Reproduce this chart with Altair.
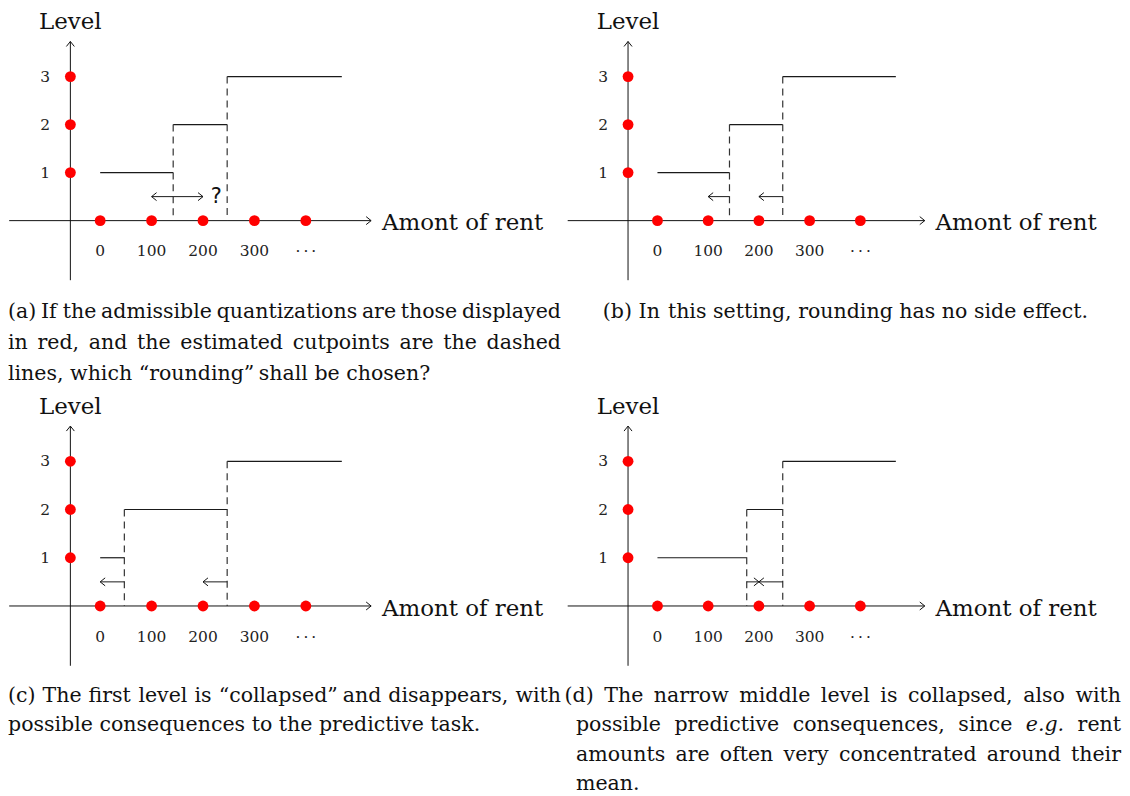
import altair as alt
import pandas as pd

# ---------------- data ----------------
RENT_TICKS = [0, 100, 200, 300, 400]
RENT_TICK_LABELS = ["0", "100", "200", "300", "\u00b7\u2009\u00b7\u2009\u00b7"]
LEVELS = [1, 2, 3]
LEVEL_LABELS = ["1", "2", "3"]
STEP_FIRST = 0          # start of level-1 step
STEP_LAST = 470         # end of level-3 step
PANELS = ["a", "b", "c", "d"]
CUT1 = [142, 142, 47, 176]      # first estimated cutpoint per panel
CUT2 = [247, 247, 247, 247]     # second estimated cutpoint per panel
ARROW_FROM = {"a": [142, 142], "b": [142, 247], "c": [47, 247], "d": [176, 247]}
ARROW_TO = {"a": [100, 200], "b": [100, 200], "c": [0, 200], "d": [200, 200]}
ARROW_LEVEL = 0.5
QUESTION_AT = (226, 0.5)

CAPTION_A = ["(a) If the admissible quantizations are those displayed",
             "in red, and the estimated cutpoints are the dashed",
             "lines, which \u201crounding\u201d shall be chosen?"]
CAPTION_B = ["(b) In this setting, rounding has no side effect."]
CAPTION_C = ["(c) The first level is \u201ccollapsed\u201d and disappears, with",
             "possible consequences to the predictive task."]
CAPTION_D = ["(d) The narrow middle level is collapsed, also with",
             "possible predictive consequences, since e.g. rent",
             "amounts are often very concentrated around their",
             "mean."]
ITALIC_WORDS = {"e.g."}

# ---------------- styling / geometry ----------------
FONT = "DejaVu Serif"
CAP_SIZE = 20.6
X_AXIS = (-177, 527)
Y_AXIS_X = -58
Y_AXIS = (-1.24, 3.73)
W = 559
H_TOP, H_BOT = 387, 401
XDOM_L = [-179.3, 904.1]
XDOM_R = [-182.3, 915.9]
YDOM_T = [-3.631, 4.398]
YDOM_B = [-3.911, 4.374]

HEAD_R = "M-1.25,-1L0,0L-1.25,1"
HEAD_L = "M1.25,-1L0,0L1.25,1"
HEAD_U = "M-1,1.25L0,0L1,1.25"

# approximate advance widths (em) of DejaVu Serif, used to justify caption lines
ADV = dict(zip("abcdefghijklmnopqrstuvwxyz",
               [.596, .640, .560, .640, .592, .370, .640, .644, .320, .310, .606, .320, .948,
                .644, .602, .640, .640, .478, .513, .402, .644, .565, .856, .564, .565, .523]))
ADV.update({" ": .318, ",": .318, ".": .318, "(": .390, ")": .390, "?": .533,
            "\u201c": .459, "\u201d": .459, "I": .468, "T": .664})
SPACE = .318


def text_w(s, size):
    return sum(ADV.get(ch, .6) for ch in s) * size


def layout(lines, x0, y0, line_h, right=None, indent=None, justify=None):
    """page-pixel positions for every word of a caption"""
    rows = []
    for li, line in enumerate(lines):
        xs = x0 if (indent is None or li == 0) else indent
        words = line.split(" ")
        widths = [text_w(w, CAP_SIZE) for w in words]
        if justify and justify[li] and len(words) > 1:
            gap = (right - xs - sum(widths)) / (len(words) - 1)
        else:
            gap = SPACE * CAP_SIZE
        pos = xs
        for w, wd in zip(words, widths):
            rows.append((w, pos, y0 + li * line_h, "italic" if w in ITALIC_WORDS else "normal"))
            pos += wd + gap
    return rows


def panel(i, xdom, ydom, height, left_px, top_px, caption_rows):
    key = PANELS[i]
    c1, c2 = CUT1[i], CUT2[i]
    xs = alt.Scale(domain=xdom, nice=False, zero=False)
    ys = alt.Scale(domain=ydom, nice=False, zero=False)
    kx = W / (xdom[1] - xdom[0])
    ky = height / (ydom[1] - ydom[0])

    def enc_seg():
        return dict(
            x=alt.X("x:Q", scale=xs, axis=None),
            x2=alt.X2("x2:Q"),
            y=alt.Y("y:Q", scale=ys, axis=None),
            y2=alt.Y2("y2:Q"),
        )

    def enc_pt():
        return dict(
            x=alt.X("x:Q", scale=xs, axis=None),
            y=alt.Y("y:Q", scale=ys, axis=None),
        )

    axes = pd.DataFrame({
        "x": [X_AXIS[0], Y_AXIS_X], "x2": [X_AXIS[1], Y_AXIS_X],
        "y": [0, Y_AXIS[0]], "y2": [0, Y_AXIS[1]],
    })
    steps = pd.DataFrame({
        "x": [STEP_FIRST, c1, c2], "x2": [c1, c2, STEP_LAST],
        "y": [1, 2, 3], "y2": [1, 2, 3],
    })
    dashes = pd.DataFrame({"x": [c1, c2], "x2": [c1, c2], "y": [2, 3], "y2": [0, 0]})
    afrom, ato = ARROW_FROM[key], ARROW_TO[key]
    arrows = pd.DataFrame({
        "x": afrom, "x2": ato,
        "y": [ARROW_LEVEL] * len(afrom), "y2": [ARROW_LEVEL] * len(afrom),
    })
    heads = pd.DataFrame({
        "x": [X_AXIS[1], Y_AXIS_X] + ato,
        "y": [0, Y_AXIS[1]] + [ARROW_LEVEL] * len(ato),
        "d": ["r", "u"] + ["r" if t > f else "l" for f, t in zip(afrom, ato)],
    })
    pts = pd.DataFrame({
        "x": RENT_TICKS + [Y_AXIS_X] * len(LEVELS),
        "y": [0] * len(RENT_TICKS) + LEVELS,
    })
    xlab = pd.DataFrame({"x": RENT_TICKS, "y": [-0.64] * len(RENT_TICKS), "t": RENT_TICK_LABELS})
    ylab = pd.DataFrame({"x": [-107] * len(LEVELS), "y": LEVELS, "t": LEVEL_LABELS})
    ytitle = pd.DataFrame({"x": [Y_AXIS_X], "y": [3.99], "t": ["Level"]})
    xtitle = pd.DataFrame({"x": [548], "y": [-0.20], "t": ["Amont of rent"]})

    cap = pd.DataFrame({
        "t": [r[0] for r in caption_rows],
        "x": [xdom[0] + (r[1] - left_px) / kx for r in caption_rows],
        "y": [ydom[1] - (r[2] - top_px) / ky for r in caption_rows],
        "s": [r[3] for r in caption_rows],
    })

    layers = [
        alt.Chart(axes).mark_rule(color="#111", strokeWidth=1).encode(**enc_seg()),
        alt.Chart(steps).mark_rule(color="#1a1a1a", strokeWidth=1.2).encode(**enc_seg()),
        alt.Chart(dashes).mark_rule(color="#333", strokeWidth=1.2, strokeDash=[7, 5]).encode(**enc_seg()),
        alt.Chart(arrows).mark_rule(color="#1a1a1a", strokeWidth=1).encode(**enc_seg()),
        alt.Chart(heads).mark_point(filled=False, size=64, strokeWidth=1, color="#111", opacity=1).encode(
            shape=alt.Shape("d:N", scale=alt.Scale(domain=["r", "l", "u"], range=[HEAD_R, HEAD_L, HEAD_U]), legend=None),
            **enc_pt()),
        alt.Chart(pts).mark_circle(size=118, color="#ff0000", opacity=1).encode(**enc_pt()),
        alt.Chart(xlab).mark_text(font=FONT, fontSize=15.5, color="#222", baseline="middle").encode(text="t:N", **enc_pt()),
        alt.Chart(ylab).mark_text(font=FONT, fontSize=15.5, color="#222", baseline="middle").encode(text="t:N", **enc_pt()),
        alt.Chart(ytitle).mark_text(font=FONT, fontSize=23, color="#111", align="center", baseline="alphabetic").encode(text="t:N", **enc_pt()),
        alt.Chart(xtitle).mark_text(font=FONT, fontSize=23, color="#111", align="left", baseline="alphabetic").encode(text="t:N", **enc_pt()),
    ]
    if key == "a":
        q = pd.DataFrame({"x": [QUESTION_AT[0]], "y": [QUESTION_AT[1]], "t": ["?"]})
        layers.append(alt.Chart(q).mark_text(font="DejaVu Sans", fontSize=21, color="#111", baseline="middle").encode(text="t:N", **enc_pt()))
    for style in ["normal", "italic"]:
        sub = cap[cap.s == style]
        if len(sub):
            layers.append(alt.Chart(sub).mark_text(
                font=FONT, fontSize=CAP_SIZE, color="#111", align="left", baseline="alphabetic",
                fontStyle=style,
            ).encode(text="t:N", **enc_pt()))
    return alt.layer(*layers).properties(width=W, height=height)


rows_a = layout(CAPTION_A, 8, 318, 31, right=563, justify=[True, True, False])
rows_b = layout(CAPTION_B, 605, 318, 31)
rows_c = layout(CAPTION_C, 8, 703, 29.5, right=563, justify=[True, False])
rows_d = layout(CAPTION_D, 566.6, 703, 29.5, right=1125, indent=578, justify=[True, True, True, False])

pa = panel(0, XDOM_L, YDOM_T, H_TOP, 8, 8, rows_a)
pb = panel(1, XDOM_R, YDOM_T, H_TOP, 567, 8, rows_b)
pc = panel(2, XDOM_L, YDOM_B, H_BOT, 8, 395, rows_c)
pd_ = panel(3, XDOM_R, YDOM_B, H_BOT, 567, 395, rows_d)

chart = alt.concat(pa, pb, pc, pd_, columns=2, spacing=0, bounds="flush") \
    .properties(padding=0).configure_view(stroke=None)

chart.save("out.html", embed_options={"renderer": "svg", "actions": False})
